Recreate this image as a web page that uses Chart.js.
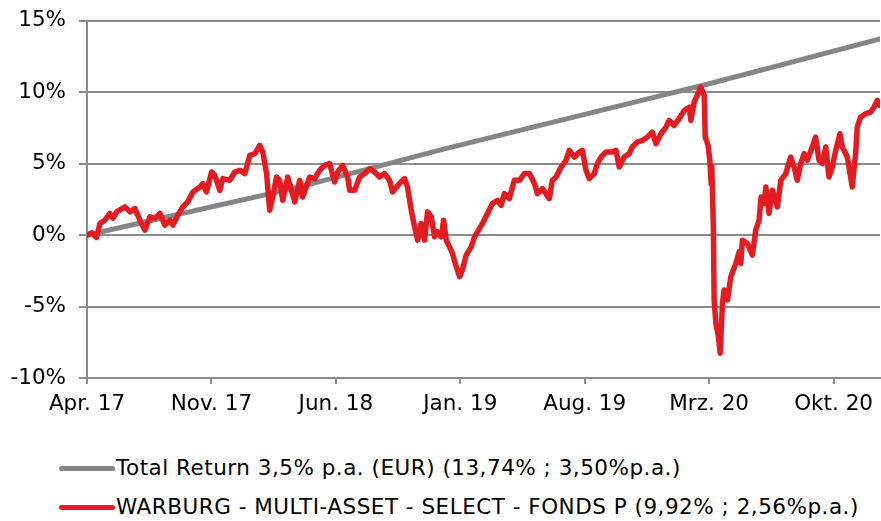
<!DOCTYPE html>
<html lang="de">
<head>
  <meta charset="UTF-8" />
  <title>Wertentwicklung</title>
  <script src="https://cdn.jsdelivr.net/npm/chart.js"></script>
  <style>
    body { margin: 0; background: #fff; overflow: hidden; }
    #wrap { position: relative; width: 881px; height: 521px; overflow: hidden; font-family: "DejaVu Sans", Verdana, sans-serif; }
    #chart { position: absolute; left: 0; top: -5px; }
    .leg { position: absolute; left: 59px; font-size: 21.5px; letter-spacing: 0.5px; color: #000; white-space: nowrap; line-height: 26px; }
    .leg span { display: inline-block; width: 56px; height: 5px; border-radius: 3px; vertical-align: middle; margin-right: 1px; position: relative; top: -1px; }
  </style>
</head>
<body>
  <div id="wrap">
    <canvas id="chart" width="881" height="435"></canvas>
    <div class="leg" style="top:455px"><span style="background:#858585"></span>Total Return 3,5% p.a. (EUR) (13,74% ; 3,50%p.a.)</div>
    <div class="leg" style="top:494px"><span style="background:#e41c21"></span>WARBURG - MULTI-ASSET - SELECT - FONDS P (9,92% ; 2,56%p.a.)</div>
  </div>
  <script>
    // x values are months since April 2017
    const tickMonths = [0, 7, 14, 21, 28, 35, 42];
    const tickLabels = ['Apr. 17', 'Nov. 17', 'Jun. 18', 'Jan. 19', 'Aug. 19', 'Mrz. 20', 'Okt. 20'];
    const lastMonth = 44.61;

    const benchMonths = [0, 6, 12, 20, 28.8, 35, 44.61];
    const benchValues = [0, 1.7, 3.4, 6.0, 8.7, 10.6, 13.74];

    const fundMonths = [
      0, 0.26, 0.54, 0.73, 1.01, 1.29, 1.46, 1.67, 2.13, 2.42, 2.70, 2.98, 3.26, 3.54, 3.82, 4.10, 4.38, 4.66, 4.83, 5.11,
      5.39, 5.67, 5.96, 6.35, 6.52, 6.72, 7.01, 7.19, 7.47, 7.64, 8.03, 8.31, 8.60, 8.88, 9.16, 9.44, 9.72, 9.89, 10.10, 10.28,
      10.45, 10.66, 10.84, 11.01, 11.29, 11.50, 11.69, 11.97, 12.13, 12.53, 12.81, 13.09, 13.37, 13.65, 13.93, 14.10, 14.38, 14.66, 14.78, 15.06,
      15.34, 15.62, 15.90, 16.18, 16.46, 16.74, 17.02, 17.19, 17.58, 17.87, 18.03, 18.24, 18.43, 18.60, 18.80, 18.99, 19.16, 19.37, 19.55, 19.72,
      19.93, 20.06, 20.21, 20.39, 20.56, 20.77, 20.96, 21.12, 21.33, 21.61, 21.80, 21.97, 22.25, 22.53, 22.81, 23.09, 23.30, 23.48, 23.76, 24.04,
      24.33, 24.61, 24.89, 25.17, 25.34, 25.62, 26.01, 26.18, 26.39, 26.67, 26.95, 27.13, 27.42, 27.70, 27.87, 28.07, 28.26, 28.54, 28.71, 28.92,
      29.20, 29.55, 29.76, 29.94, 30.22, 30.51, 30.67, 30.96, 31.24, 31.52, 31.80, 32.01, 32.29, 32.57, 32.75, 33.03, 33.31, 33.60, 33.88, 33.97,
      34.16, 34.33, 34.53, 34.72, 34.78, 34.94, 35.04, 35.11, 35.15, 35.24, 35.28, 35.38, 35.52, 35.62, 35.75, 35.84, 36.03, 36.22, 36.50, 36.69,
      36.78, 36.87, 37.15, 37.43, 37.62, 37.81, 37.92, 38.10, 38.19, 38.37, 38.56, 38.84, 39.03, 39.31, 39.59, 39.78, 39.96, 40.15, 40.34, 40.52,
      40.80, 40.99, 41.18, 41.37, 41.56, 41.74, 41.93, 42.12, 42.36, 42.49, 42.77, 43.05, 43.24, 43.33, 43.52, 43.80, 44.08, 44.27, 44.46, 44.61
    ];
    const fundValues = [
      0, 0.16, -0.16, 0.82, 1.05, 1.52, 1.19, 1.63, 1.98, 1.63, 1.86, 1.05, 0.35, 1.28, 1.19, 1.52, 0.70, 1.05, 0.70, 1.40,
      1.98, 2.33, 3.02, 3.37, 3.61, 3.02, 4.42, 4.19, 3.14, 3.96, 3.84, 4.42, 4.54, 4.31, 5.59, 5.71, 6.28, 5.82, 4.31, 1.75,
      2.67, 4.07, 3.84, 2.44, 4.07, 3.14, 2.33, 3.84, 2.67, 4.07, 3.96, 4.54, 4.89, 5.01, 3.72, 4.42, 4.89, 4.07, 3.14, 3.14,
      4.07, 4.31, 4.66, 4.42, 4.07, 4.31, 3.84, 3.02, 3.61, 3.96, 3.37, 1.75, 0.58, -0.35, 0.82, -0.35, 1.63, 1.28, -0.12, 0.23,
      -0.12, 1.05, -0.35, -0.82, -1.28, -2.21, -2.91, -2.44, -1.40, -0.82, -0.12, 0.23, 0.82, 1.52, 2.21, 2.44, 2.09, 2.91, 2.56, 3.84,
      3.84, 4.31, 4.31, 3.61, 2.91, 3.26, 2.56, 3.84, 4.07, 4.77, 5.24, 5.94, 5.47, 5.82, 5.94, 4.54, 3.96, 4.31, 5.01, 5.47,
      5.82, 5.82, 5.94, 4.77, 5.47, 5.71, 6.17, 6.52, 6.63, 6.86, 7.21, 6.40, 7.10, 7.56, 8.03, 7.68, 8.15, 8.73, 8.96, 8.03,
      9.31, 9.78, 10.36, 9.78, 6.86, 6.28, 5.24, 3.61, 4.80, 0.35, -4.54, -6.17, -7.10, -8.26, -4.77, -3.84, -4.54, -2.91, -1.98, -1.17,
      -1.98, -0.35, -0.58, -1.40, 0.35, 1.05, 2.67, 2.21, 3.37, 1.52, 3.14, 1.98, 3.84, 4.31, 5.47, 4.77, 3.84, 5.01, 5.71, 5.24,
      6.17, 6.86, 5.24, 5.01, 6.17, 4.07, 4.77, 5.94, 7.10, 6.17, 5.47, 3.37, 5.71, 7.56, 8.26, 8.50, 8.61, 8.96, 9.43, 9.08
    ];

    const axisGray = '#8c8c8c';
    const font = { family: '"DejaVu Sans", Verdana, sans-serif', size: 21.5 };

    new Chart(document.getElementById('chart'), {
      type: 'line',
      data: {
        datasets: [
          {
            label: 'WARBURG - MULTI-ASSET - SELECT - FONDS P (9,92% ; 2,56%p.a.)',
            data: fundMonths.map((m, i) => ({ x: m, y: fundValues[i] })),
            borderColor: '#e41c21',
            borderWidth: 5.5,
            borderJoinStyle: 'round',
            borderCapStyle: 'round',
            pointRadius: 0,
            tension: 0
          },
          {
            label: 'Total Return 3,5% p.a. (EUR) (13,74% ; 3,50%p.a.)',
            data: benchMonths.map((m, i) => ({ x: m, y: benchValues[i] })),
            borderColor: '#858585',
            borderWidth: 5,
            borderCapStyle: 'round',
            pointRadius: 0,
            tension: 0.2
          }
        ]
      },
      options: {
        responsive: false,
        animation: false,
        layout: { padding: { top: 15, right: 0, left: 0, bottom: 0 } },
        plugins: { legend: { display: false }, tooltip: { enabled: false } },
        scales: {
          x: {
            type: 'linear',
            min: 0,
            max: lastMonth,
            afterFit: s => { s.height = 52; },
            afterBuildTicks: s => { s.ticks = tickMonths.map(v => ({ value: v })); },
            grid: { drawOnChartArea: false, tickLength: 6, color: axisGray, lineWidth: 2 },
            border: { display: true, color: axisGray, width: 2 },
            ticks: {
              padding: 8,
              maxRotation: 0,
              autoSkip: false,
              color: '#000',
              font: font,
              callback: v => tickLabels[tickMonths.indexOf(v)]
            }
          },
          y: {
            min: -10,
            max: 15,
            afterFit: s => { s.width = 87; },
            grid: { color: axisGray, lineWidth: 2, tickLength: 8 },
            border: { display: true, color: axisGray, width: 2 },
            ticks: {
              stepSize: 5,
              padding: 13,
              color: '#000',
              font: font,
              callback: v => v + '%'
            }
          }
        }
      }
    });
  </script>
</body>
</html>
